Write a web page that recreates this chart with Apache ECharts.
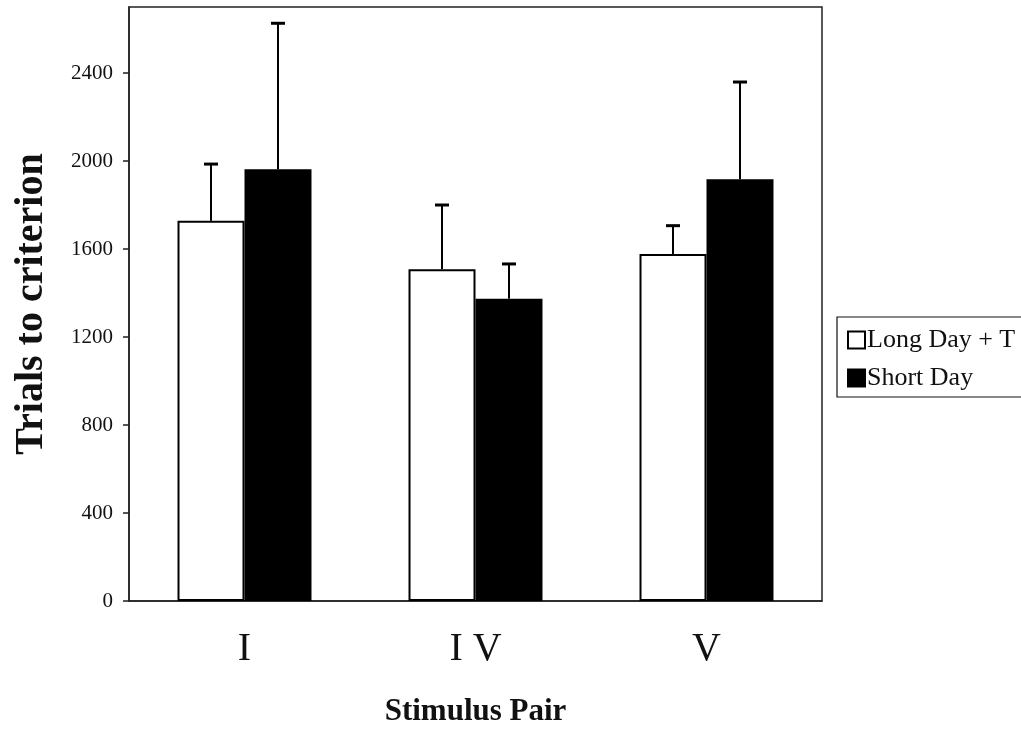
<!DOCTYPE html>
<html><head><meta charset="utf-8">
<script src="https://cdn.jsdelivr.net/npm/echarts@6/dist/echarts.min.js"></script>
<style>html,body{margin:0;padding:0;background:#fff}#c{width:1021px;height:746px}</style>
</head><body><div id="c"></div>
<script>
const categories = ['I', 'I V', 'V'];
const longDayMeans = [1728, 1508, 1577];
const longDayErr = [258, 292, 129];
const shortDayMeans = [1962, 1374, 1917];
const shortDayErr = [664, 158, 442];
const yTicks = [0, 400, 800, 1200, 1600, 2000, 2400];

const FONT = 'Liberation Serif';
const chart = echarts.init(document.getElementById('c'));
const CAT_GAP = 0.42;

function errSeries(name, means, errs, side) {
  return {
    type: 'custom', name: name + ' err', silent: true, z: 5,
    data: means.map((m, i) => [i, m, m + errs[i]]),
    renderItem(params, api) {
      const band = api.size([1, 0])[0];
      const bw = band * (1 - CAT_GAP) / 2;
      const off = side * bw / 2;
      const p0 = api.coord([api.value(0), api.value(1)]);
      const p1 = api.coord([api.value(0), api.value(2)]);
      const x = p0[0] + off;
      const style = {stroke: '#000', lineWidth: 2};
      return {type: 'group', children: [
        {type: 'line', shape: {x1: x, y1: p0[1], x2: x, y2: p1[1]}, style},
        {type: 'line', shape: {x1: x - 7, y1: p1[1], x2: x + 7, y2: p1[1]}, style: {stroke: '#000', lineWidth: 3}}
      ]};
    }
  };
}

chart.setOption({
  animation: false,
  backgroundColor: '#fff',
  grid: {left: 129, right: 199, top: 7, bottom: 145, show: true, borderColor: '#222', borderWidth: 1.5, backgroundColor: 'transparent'},
  xAxis: {
    type: 'category', data: categories,
    axisLine: {lineStyle: {color: '#222', width: 1.5}},
    axisTick: {show: false},
    axisLabel: {fontFamily: FONT, fontSize: 40, color: '#111', margin: 28},
    name: 'Stimulus Pair', nameLocation: 'middle', nameGap: 95,
    nameTextStyle: {fontFamily: FONT, fontSize: 31, fontWeight: 'bold', color: '#111'}
  },
  yAxis: {
    type: 'value', min: 0, max: 2700, interval: 100,
    axisLine: {show: true, lineStyle: {color: '#222', width: 1.5}},
    axisTick: {show: true, length: 6, customValues: yTicks, lineStyle: {color: '#222', width: 1.5}},
    axisLabel: {fontFamily: FONT, fontSize: 21, color: '#111', margin: 16, customValues: yTicks,
      formatter: v => String(v)},
    splitLine: {show: false},
    name: 'Trials to criterion', nameLocation: 'middle', nameGap: 77, nameRotate: 90,
    nameTextStyle: {fontFamily: FONT, fontSize: 40, fontWeight: 'bold', color: '#111'}
  },
  legend: {
    left: 842, top: 322, orient: 'vertical', itemGap: 12, itemWidth: 17, itemHeight: 17,
    icon: 'rect',
    textStyle: {fontFamily: FONT, fontSize: 26, color: '#111', padding: [0, 0, 0, -3]},
    data: ['Long Day + T', 'Short Day']
  },
  graphic: [{type: 'rect', shape: {x: 837, y: 317, width: 200, height: 80}, style: {fill: 'none', stroke: '#111', lineWidth: 1.2}}],
  series: [
    {name: 'Long Day + T', type: 'bar', data: longDayMeans, barGap: '0%', barCategoryGap: '42%',
     itemStyle: {color: '#fff', borderColor: '#000', borderWidth: 2}},
    {name: 'Short Day', type: 'bar', data: shortDayMeans,
     itemStyle: {color: '#000', borderColor: '#000', borderWidth: 2}},
    errSeries('Long Day + T', longDayMeans, longDayErr, -1),
    errSeries('Short Day', shortDayMeans, shortDayErr, 1)
  ]
});
</script></body></html>
